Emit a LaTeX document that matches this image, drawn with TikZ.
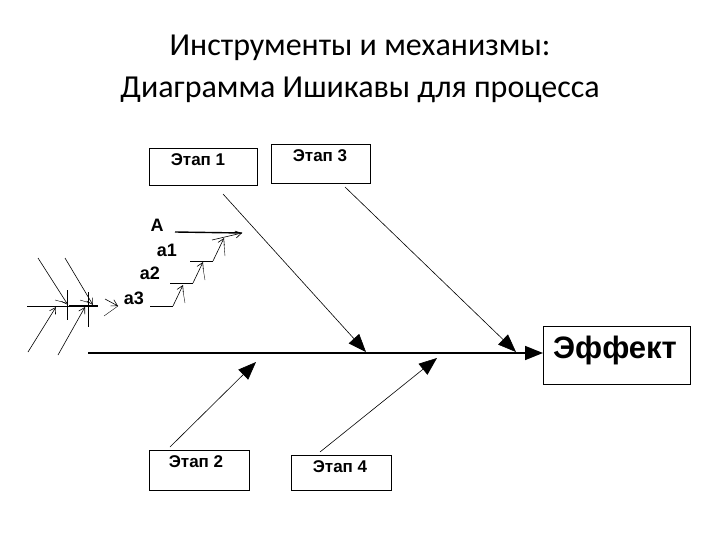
\documentclass[tikz,border=0pt]{standalone}
\usepackage{fontspec}
\setmainfont{Carlito}
\newfontfamily\arial{Liberation Sans}
\usetikzlibrary{arrows.meta}
\begin{document}
\begin{tikzpicture}[x=1pt,y=-1pt,
  box/.style={draw,line width=1.2pt,anchor=north west},
  bt/.style={font=\arial\bfseries\fontsize{17}{17}\selectfont,inner sep=0pt},
  big/.style={-{Triangle[length=18pt,width=14pt]},line width=0.6pt},
  sm/.style={-{Straight Barb[length=6pt,width=7pt]},line width=0.6pt},
  lbl/.style={font=\arial\bfseries\fontsize{18}{18}\selectfont,inner sep=0pt}]
\useasboundingbox (0,0) rectangle (720,540);
\node[font=\fontsize{32}{32}\selectfont] (t1) at (360,48) {Инструменты и механизмы:};
\node[font=\fontsize{32}{32}\selectfont] (t2) at (360,90) {Диаграмма Ишикавы для процесса};
\node[box,minimum width=108pt,minimum height=37pt] (e1) at (149,148) {};
\node[box,minimum width=99pt,minimum height=39pt] (e3) at (271,144) {};
\node[box,minimum width=100pt,minimum height=40pt] (e2) at (149,450) {};
\node[box,minimum width=100pt,minimum height=35pt] (e4) at (291,455) {};
\node[bt] (te1) at (198,160) {Этап 1};
\node[bt] (te3) at (320,156) {Этап 3};
\node[bt] (te2) at (196,462) {Этап 2};
\node[bt] (te4) at (340,467) {Этап 4};
\node[box,minimum width=147pt,minimum height=58pt,font=\arial\bfseries\fontsize{31}{31}\selectfont,inner sep=0pt] (ef) at (543,326) {};
\node[font=\arial\bfseries\fontsize{31}{31}\selectfont,inner sep=0pt] (tef) at (615,350) {Эффект};
\coordinate (s0) at (88,353);
\draw[big,line width=1.6pt] (s0) -- (ef.west |- s0);
\coordinate (a1) at (223,194); \coordinate (b1) at (366,352);
\coordinate (a3) at (345,187); \coordinate (b3) at (516,352);
\coordinate (a2) at (170,447); \coordinate (b2) at (256,362);
\coordinate (a4) at (320,452); \coordinate (b4) at (437,358);
\draw[big] (a1) -- (b1);
\draw[big] (a3) -- (b3);
\draw[big] (a2) -- (b2);
\draw[big] (a4) -- (b4);
% sub-branches
\coordinate (pA) at (242,233);
\coordinate (A0) at (175,232);
\draw[line width=1.4pt] (A0) -- (pA);
\draw[sm] (212,240) -- (pA);
\node[lbl] (lA) at (157,225) {А};
\node[lbl] (la1) at (167,250) {а1};
\node[lbl] (la2) at (150,273) {а2};
\node[lbl] (la3) at (134,298) {а3};
\coordinate (q1) at (190,261); \coordinate (r1) at (213,261); \coordinate (u1) at (224,238);
\draw (q1) -- (r1); \draw[sm] (r1) -- (u1); \draw (224,244) -- (225,256);
\coordinate (q2) at (170,283); \coordinate (r2) at (193,283); \coordinate (u2) at (203,262);
\draw (q2) -- (r2); \draw[sm] (r2) -- (u2); \draw (203,268) -- (205,280);
\coordinate (q3) at (150,306); \coordinate (r3) at (173,306); \coordinate (u3) at (183,285);
\draw (q3) -- (r3); \draw[sm] (r3) -- (u3); \draw (183,291) -- (185,303);
% left cluster
\coordinate (L0) at (27,306); \coordinate (L1) at (118,306);
\draw (L0) -- (69,306); \draw[line width=1.4pt] (69,306) -- (98,306);
\draw[sm] (105,299) -- (L1); \draw (L1) -- (104,316);
\draw[sm] (38,258) -- (68,305);
\draw[sm] (65,258) -- (93,305);
\draw[sm] (28,352) -- (56,307);
\draw[sm] (58,355) -- (85,307);
\draw (67,290) -- (67,320); \draw (88,292) -- (88,327);
\draw (55,300) -- (66,303); \draw (80,300) -- (90,303);
\end{tikzpicture}
\end{document}
